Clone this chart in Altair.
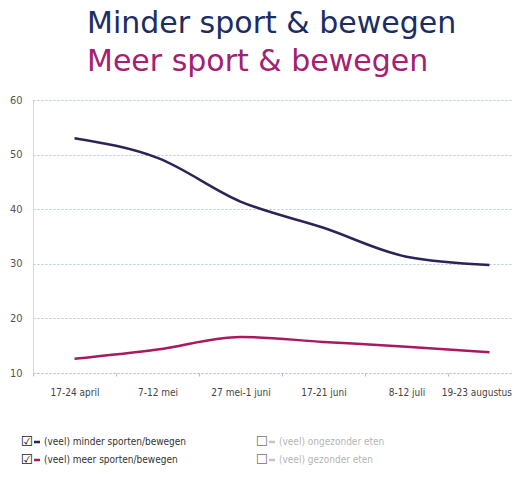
import altair as alt
import pandas as pd

periods = ["17-24 april", "7-12 mei", "27 mei-1 juni", "17-21 juni", "8-12 juli", "19-23 augustus"]
minder = [53.0, 49.4, 41.4, 36.6, 31.3, 29.8]
meer = [12.6, 14.3, 16.6, 15.7, 14.8, 13.8]
series_names = ["(veel) minder sporten/bewegen", "(veel) meer sporten/bewegen"]
series_colors = ["#2e2357", "#a8195f"]
title_lines = ["Minder sport & bewegen", "Meer sport & bewegen"]
title_colors = ["#1b2d63", "#a3216f"]
legend_labels = ["(veel) minder sporten/bewegen", "(veel) meer sporten/bewegen",
                 "(veel) ongezonder eten", "(veel) gezonder eten"]
legend_colors = ["#2e2357", "#a8195f", "#c4c4c4", "#c4c4c4"]
legend_text_colors = ["#333333", "#333333", "#b5b5b5", "#b5b5b5"]
legend_checked = [True, True, False, False]
y_ticks = [10, 20, 30, 40, 50, 60]

NARROW = "DejaVu Sans Condensed"

df = pd.DataFrame({
    "periode": periods * 2,
    "waarde": minder + meer,
    "reeks": [series_names[0]] * len(periods) + [series_names[1]] * len(periods),
})

last_test = "datum.value == '" + periods[-1] + "'"

x_enc = alt.X(
    "periode:N", sort=periods,
    scale=alt.Scale(range=[0, 498], paddingInner=0, paddingOuter=0),
    axis=alt.Axis(title=None, labelAngle=0, tickBand="extent", grid=False,
                  domainDash=[2, 2], domainColor="#a9bedb", tickColor="#a9bedb",
                  tickSize=3, labelPadding=11, labelFont=NARROW, labelFontSize=10,
                  labelColor="#444444",
                  labelAlign={"condition": {"test": last_test, "value": "right"}, "value": "center"},
                  labelOffset={"condition": {"test": last_test, "value": 22}, "value": 0}),
)
y_enc = alt.Y(
    "waarde:Q",
    scale=alt.Scale(domain=[10, 60], nice=False, zero=False),
    axis=alt.Axis(values=y_ticks, title=None, ticks=False, grid=True, gridDash=[2, 2],
                  gridColor="#b3c4dd", domainColor="#cdd8ea", labelFont=NARROW,
                  labelFontSize=11, labelPadding=11, labelColor="#555555"),
)

lines = alt.Chart(df).mark_line(interpolate="monotone", strokeWidth=2.5).encode(
    x=x_enc, y=y_enc,
    color=alt.Color("reeks:N", scale=alt.Scale(domain=series_names, range=series_colors), legend=None),
)

layers = [lines]

# titles
title_y = [-67, -29]
for txt, col, ty in zip(title_lines, title_colors, title_y):
    layers.append(
        alt.Chart(pd.DataFrame({"t": [txt]})).mark_text(
            align="left", baseline="alphabetic", font="DejaVu Sans", fontSize=30, color=col
        ).encode(text="t:N", x=alt.value(54), y=alt.value(ty))
    )

# custom legend
col_x = [0, 235]
row_y = [342, 360]
for i, (lab, col, tcol, chk) in enumerate(zip(legend_labels, legend_colors, legend_text_colors, legend_checked)):
    cx = col_x[i // 2]
    ry = row_y[i % 2]
    layers.append(
        alt.Chart(pd.DataFrame({"t": ["☑" if chk else "☐"]})).mark_text(
            align="center", baseline="middle", font="DejaVu Sans", fontSize=14,
            color="#222222" if chk else "#777777"
        ).encode(text="t:N", x=alt.value(cx - 6), y=alt.value(ry))
    )
    layers.append(
        alt.Chart(pd.DataFrame({"a": [0]})).mark_rule(strokeWidth=2.5, color=col).encode(
            x=alt.value(cx + 1), x2=alt.value(cx + 7), y=alt.value(ry)
        )
    )
    layers.append(
        alt.Chart(pd.DataFrame({"t": [lab]})).mark_text(
            align="left", baseline="middle", font=NARROW, fontSize=10, color=tcol
        ).encode(text="t:N", x=alt.value(cx + 11), y=alt.value(ry))
    )

chart = alt.layer(*layers).properties(
    width=480, height=273,
    autosize=alt.AutoSizeParams(type="none"),
    padding={"left": 25, "top": 92, "right": 0, "bottom": 93},
).configure_view(stroke=None)

chart.save("out.html", embed_options={"renderer": "svg", "actions": False})
